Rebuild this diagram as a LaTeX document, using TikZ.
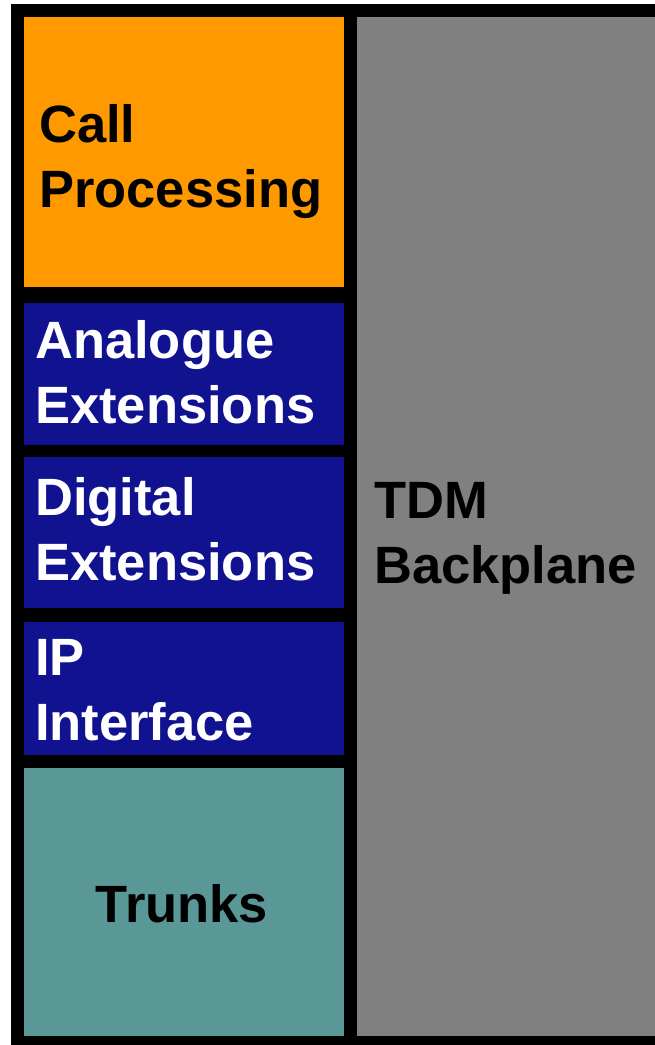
\documentclass[tikz,border=0pt]{standalone}
\usepackage{fontspec}
\setmainfont{Liberation Sans}
\usepackage{tikz}

\definecolor{cpOrange}{HTML}{FF9900}
\definecolor{extBlue}{HTML}{10128F}
\definecolor{trunkTeal}{HTML}{5A9898}
\definecolor{tdmGrey}{HTML}{808080}

\begin{document}
\begin{tikzpicture}[x=1pt, y=-1pt,
	card/.style={inner sep=0pt, anchor=north west, minimum width=320pt},
	cardtext/.style={inner sep=0pt, align=left, font=\fontsize{52.5}{64.5}\selectfont\bfseries}]
	\useasboundingbox (0,0) rectangle (655,1045);

	% rack frame
	\fill[black] (11,4) rectangle (670,1045);

	% cards in the left column
	\node[card, fill=cpOrange, minimum height=270pt] (call) at (24,17) {};
	\node[card, fill=extBlue, minimum height=142pt] (analogue) at (24,303) {};
	\node[card, fill=extBlue, minimum height=151pt] (digital) at (24,457) {};
	\node[card, fill=extBlue, minimum height=133pt] (ip) at (24,622) {};
	\node[card, fill=trunkTeal, minimum height=268pt] (trunks) at (24,768) {};

	% backplane
	\node[card, fill=tdmGrey, minimum width=310pt, minimum height=1019pt] (tdm) at (357,17) {};

	% labels (base = last line)
	\node[cardtext, anchor=base west] (callT) at (39,207) {Call\\Processing};
	\node[cardtext, anchor=base west, text=white] (analogueT) at (35,423) {Analogue\\Extensions};
	\node[cardtext, anchor=base west, text=white] (digitalT) at (35,580) {Digital\\Extensions};
	\node[cardtext, anchor=base west, text=white] (ipT) at (35,740) {IP\\Interface};
	\node[cardtext, anchor=base] (trunksT) at (182,922) {Trunks};
	\node[cardtext, anchor=base west] (tdmT) at (374,583) {TDM\\Backplane};

\end{tikzpicture}
\end{document}
